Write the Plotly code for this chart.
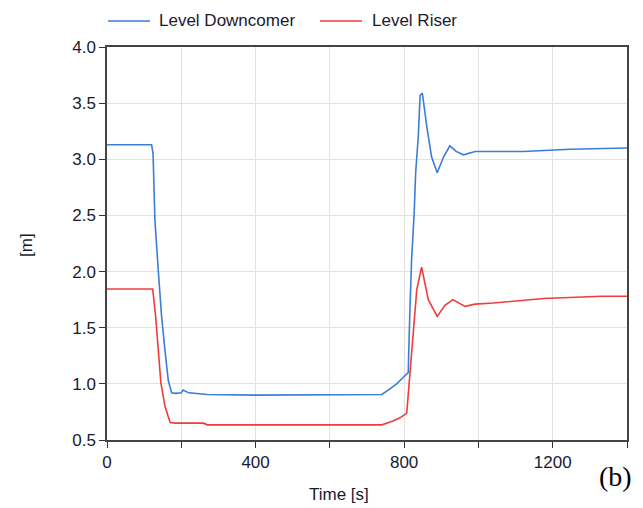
import plotly.graph_objects as go

# Downcomer level [m] over time [s]
t_down = [0, 120, 124, 129, 138, 147, 156, 165, 174, 185, 200, 205, 220, 270, 400, 600, 740,
          760, 780, 795, 811, 815, 820, 827, 831, 838, 843, 849, 861, 874, 889, 906, 923,
          940, 960, 991, 1121, 1247, 1381, 1400]
lvl_down = [3.13, 3.13, 3.05, 2.46, 2.01, 1.60, 1.30, 1.03, 0.92, 0.915, 0.92, 0.945, 0.92, 0.905, 0.90, 0.90, 0.905,
            0.95, 1.00, 1.05, 1.10, 1.60, 2.10, 2.52, 2.88, 3.20, 3.57, 3.59, 3.29, 3.02, 2.88, 3.02, 3.12,
            3.07, 3.04, 3.07, 3.07, 3.09, 3.10, 3.10]

# Riser level [m] over time [s]
t_riser = [0, 123, 131, 138, 145, 156, 170, 185, 200, 205, 260, 270, 400, 600, 740,
           770, 790, 807, 813, 825, 834, 847, 865, 889, 910, 931, 964, 991, 1040, 1175, 1332, 1400]
lvl_riser = [1.845, 1.845, 1.60, 1.33, 1.01, 0.80, 0.655, 0.65, 0.65, 0.655, 0.65, 0.635, 0.635, 0.635, 0.635,
             0.67, 0.70, 0.74, 1.00, 1.45, 1.84, 2.04, 1.75, 1.60, 1.70, 1.75, 1.69, 1.71, 1.72, 1.76, 1.78, 1.78]

series_names = ["Level Downcomer", "Level Riser"]
series_colors = ["#3b7dd8", "#f03c3c"]

x_ticks = [0, 200, 400, 600, 800, 1000, 1200, 1400]
x_labels = ["0", "", "400", "", "800", "", "1200", ""]
y_ticks = [0.5, 1.0, 1.5, 2.0, 2.5, 3.0, 3.5, 4.0]

W, H = 643, 508
L, R, T, B = 107, 16, 47, 68
PW, PH = W - L - R, H - T - B

font = "Liberation Sans, Arial, sans-serif"
text_color = "#1a1a2e"
fsize = 17


def px_x(px):
    return (px - L) / PW


def px_y(py):
    return (H - B - py) / PH


fig = go.Figure()
for t, v, name, col in zip([t_down, t_riser], [lvl_down, lvl_riser], series_names, series_colors):
    fig.add_trace(go.Scatter(x=t, y=v, mode="lines", name=name,
                             line=dict(color=col, width=1.6), showlegend=False))

axis_common = dict(showline=True, linecolor="#444444", linewidth=1.5, mirror=True,
                   showgrid=True, gridcolor="#e3e3e3", gridwidth=1,
                   ticks="outside", ticklen=6, tickcolor="#333333", tickwidth=1,
                   tickfont=dict(family=font, size=fsize, color=text_color),
                   zeroline=False)

fig.update_layout(
    width=W, height=H,
    margin=dict(l=L, r=R, t=T, b=B),
    paper_bgcolor="white", plot_bgcolor="white",
    font=dict(family=font, size=fsize, color=text_color),
    xaxis=dict(range=[0, 1400], tickvals=x_ticks, ticktext=x_labels, **axis_common),
    yaxis=dict(range=[0.5, 4.0], tickvals=y_ticks, tickformat=".1f", **axis_common),
    showlegend=False,
)

# Legend row above the plot
legend_items = [(108, 150, 157), (320, 362, 370)]
for (x0, x1, xt), name, col in zip(legend_items, series_names, series_colors):
    fig.add_shape(type="line", xref="paper", yref="paper", x0=px_x(x0), x1=px_x(x1),
                  y0=px_y(21), y1=px_y(21), line=dict(color=col, width=1.6))
    fig.add_annotation(text=name, xref="paper", yref="paper", x=px_x(xt), y=px_y(21),
                       showarrow=False, xanchor="left", yanchor="middle",
                       font=dict(family=font, size=fsize, color=text_color))

fig.add_annotation(text="Time [s]", xref="paper", yref="paper", x=px_x(339), y=px_y(494),
                   showarrow=False, font=dict(family=font, size=fsize, color=text_color),
                   xanchor="center", yanchor="middle")
fig.add_annotation(text="[m]", xref="paper", yref="paper", x=px_x(27), y=px_y(245),
                   showarrow=False, textangle=-90, font=dict(family=font, size=fsize, color=text_color),
                   xanchor="center", yanchor="middle")
fig.add_annotation(text="(b)", xref="paper", yref="paper", x=px_x(615), y=px_y(477),
                   showarrow=False,
                   font=dict(family="Liberation Serif, Times New Roman, serif", size=28, color="#000000"),
                   xanchor="center", yanchor="middle")

fig.write_html("out.html")
